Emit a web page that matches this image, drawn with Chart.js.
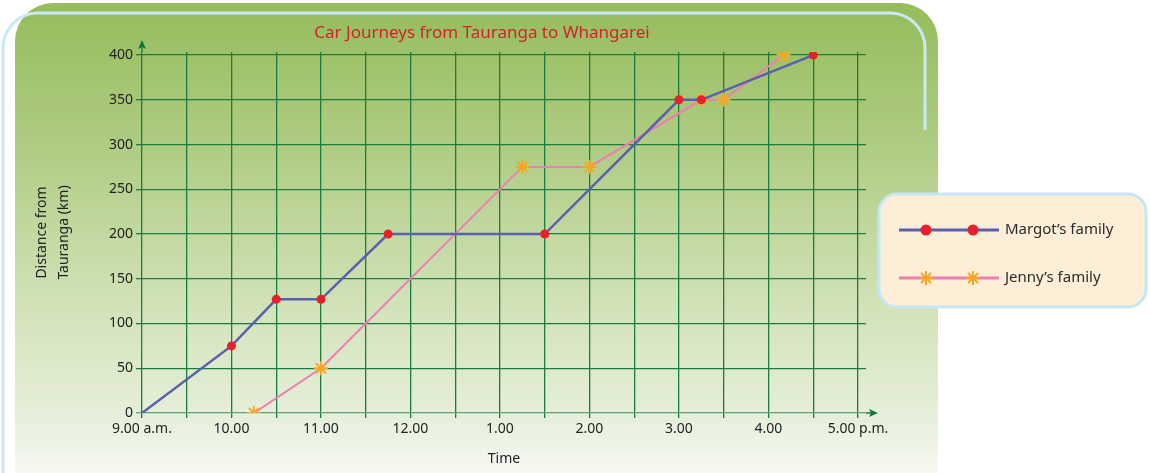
<!DOCTYPE html>
<html>
<head>
<meta charset="utf-8">
<script src="https://cdn.jsdelivr.net/npm/chart.js@4.4.1/dist/chart.umd.min.js"></script>
<style>
  html, body { margin: 0; padding: 0; background: #fff; }
</style>
</head>
<body>
<canvas id="journeyChart" width="1150" height="473"></canvas>
<script>
// hour values on a 24h clock, labels only on whole hours
const timeLabels = ['9.00 a.m.', '10.00', '11.00', '12.00', '1.00', '2.00', '3.00', '4.00', '5.00 p.m.'];
const distanceTicks = [0, 50, 100, 150, 200, 250, 300, 350, 400];

const margotTimes = [9, 10, 10.5, 11, 11.75, 13.5, 15, 15.25, 16.5];
const margotKm = [0, 75, 127, 127, 200, 200, 350, 350, 400];

const jennyTimes = [10.25, 11, 13.25, 14, 15.25, 15.5, 16.17];
const jennyKm = [0, 50, 275, 275, 350, 350, 400];

const FONT = '"Noto Sans", "Open Sans", sans-serif';
const GRID = '#1e7b3f';

function roundRect(ctx, x, y, w, h, r) {
  ctx.beginPath();
  ctx.moveTo(x + r, y);
  ctx.lineTo(x + w - r, y);
  ctx.arcTo(x + w, y, x + w, y + r, r);
  ctx.lineTo(x + w, y + h - r);
  ctx.arcTo(x + w, y + h, x + w - r, y + h, r);
  ctx.lineTo(x + r, y + h);
  ctx.arcTo(x, y + h, x, y + h - r, r);
  ctx.lineTo(x, y + r);
  ctx.arcTo(x, y, x + r, y, r);
  ctx.closePath();
}

// green panel with the pale blue frame behind the chart
const panelPlugin = {
  id: 'panel',
  beforeDraw(chart) {
    const ctx = chart.ctx;
    ctx.save();
    ctx.fillStyle = '#fff';
    ctx.fillRect(0, 0, chart.width, chart.height);

    const grad = ctx.createLinearGradient(0, 3, 0, 473);
    grad.addColorStop(0, '#96bc5b');
    grad.addColorStop(0.3, '#aecc82');
    grad.addColorStop(0.65, '#d2e3b9');
    grad.addColorStop(0.88, '#e6efdb');
    grad.addColorStop(1, '#f7f9f2');
    roundRect(ctx, 15, 3, 923, 500, 38);
    ctx.fillStyle = grad;
    ctx.fill();

    ctx.beginPath();
    ctx.moveTo(925, 130);
    ctx.lineTo(925, 48);
    ctx.arcTo(925, 13, 890, 13, 35);
    ctx.lineTo(38, 13);
    ctx.arcTo(3, 13, 3, 48, 35);
    ctx.lineTo(3, 480);
    ctx.strokeStyle = '#cbe8f7';
    ctx.lineWidth = 3;
    ctx.stroke();
    ctx.restore();
  },
  afterDraw(chart) {
    const ctx = chart.ctx;
    const xs = chart.scales.x;
    const ys = chart.scales.y;
    const x0 = xs.getPixelForValue(9);
    const y0 = ys.getPixelForValue(0);
    const top = chart.chartArea.top;
    const right = chart.chartArea.right;
    ctx.save();

    // axis arrows
    ctx.strokeStyle = GRID;
    ctx.fillStyle = '#16763a';
    ctx.lineWidth = 1.5;
    ctx.beginPath();
    ctx.moveTo(x0, top);
    ctx.lineTo(x0, top - 6);
    ctx.moveTo(right, y0);
    ctx.lineTo(right + 5, y0);
    ctx.stroke();
    ctx.beginPath();
    ctx.moveTo(x0, top - 12);
    ctx.lineTo(x0 - 4, top - 3);
    ctx.lineTo(x0, top - 5);
    ctx.lineTo(x0 + 4, top - 3);
    ctx.closePath();
    ctx.fill();
    ctx.beginPath();
    ctx.moveTo(right + 12, y0);
    ctx.lineTo(right + 3, y0 - 4);
    ctx.lineTo(right + 5, y0);
    ctx.lineTo(right + 3, y0 + 4);
    ctx.closePath();
    ctx.fill();

    // title
    ctx.fillStyle = '#d1232b';
    ctx.font = '17px ' + FONT;
    ctx.textAlign = 'center';
    ctx.textBaseline = 'middle';
    ctx.fillText('Car Journeys from Tauranga to Whangarei', 482, 33);

    // legend box
    roundRect(ctx, 879, 194, 267, 113, 18);
    ctx.fillStyle = '#fdeed8';
    ctx.fill();
    ctx.strokeStyle = '#c6e6f6';
    ctx.lineWidth = 3;
    ctx.stroke();

    const rows = [
      { ds: chart.data.datasets[0], y: 230, r: 5.5 },
      { ds: chart.data.datasets[1], y: 278, r: 7 }
    ];
    rows.forEach(function(row) {
      const ds = row.ds;
      ctx.strokeStyle = ds.borderColor;
      ctx.lineWidth = 3;
      ctx.beginPath();
      ctx.moveTo(899, row.y);
      ctx.lineTo(999, row.y);
      ctx.stroke();
      [926, 973].forEach(function(mx) {
        ctx.fillStyle = ds.pointBackgroundColor;
        ctx.strokeStyle = ds.pointBorderColor;
        ctx.lineWidth = ds.pointBorderWidth;
        Chart.helpers.drawPoint(ctx, {
          pointStyle: ds.pointStyle,
          radius: row.r,
          borderWidth: ds.pointBorderWidth
        }, mx, row.y);
      });
      ctx.fillStyle = '#2b2b2b';
      ctx.font = '15px ' + FONT;
      ctx.textAlign = 'left';
      ctx.textBaseline = 'middle';
      ctx.fillText(ds.label, 1005, row.y);
    });
    ctx.restore();
  }
};

const ctx = document.getElementById('journeyChart');

new Chart(ctx, {
  type: 'line',
  data: {
    datasets: [
      {
        label: 'Margot\u2019s family',
        data: margotTimes.map((t, i) => ({ x: t, y: margotKm[i] })),
        borderColor: '#5a5fae',
        borderWidth: 2.5,
        pointStyle: 'circle',
        // no marker at the start of the trip
        pointRadius: c => (c.dataIndex === 0 ? 0 : 4.5),
        pointBackgroundColor: '#e8202a',
        pointBorderColor: '#e8202a',
        pointBorderWidth: 0,
        tension: 0
      },
      {
        label: 'Jenny\u2019s family',
        data: jennyTimes.map((t, i) => ({ x: t, y: jennyKm[i] })),
        borderColor: '#f07cb2',
        borderWidth: 2,
        pointStyle: 'star',
        pointRadius: 7,
        pointBackgroundColor: '#f7a823',
        pointBorderColor: '#f7a823',
        pointBorderWidth: 2,
        tension: 0
      }
    ]
  },
  options: {
    responsive: false,
    animation: false,
    layout: { padding: { top: 52, right: 284, bottom: 0, left: 0 } },
    plugins: {
      legend: { display: false },
      tooltip: { enabled: false }
    },
    scales: {
      x: {
        type: 'linear',
        min: 9,
        max: 17.09,
        afterBuildTicks: function(scale) {
          const ticks = [];
          for (let h = 9; h <= 17; h += 0.5) ticks.push({ value: h });
          scale.ticks = ticks;
        },
        afterFit: function(scale) { scale.height = 60; },
        border: { display: false },
        grid: { color: GRID, lineWidth: 1.3, tickLength: 5 },
        ticks: {
          autoSkip: false,
          maxRotation: 0,
          padding: 3,
          color: '#222',
          font: { family: FONT, size: 14 },
          callback: function(value) {
            return Number.isInteger(value) ? timeLabels[value - 9] : '';
          }
        },
        title: {
          display: true,
          text: 'Time',
          color: '#222',
          font: { family: FONT, size: 14 },
          padding: { top: 0, bottom: 6 }
        }
      },
      y: {
        min: 0,
        max: 403.4,
        afterBuildTicks: function(scale) {
          scale.ticks = distanceTicks.map(v => ({ value: v }));
        },
        afterFit: function(scale) { scale.width = 142; },
        border: { display: false },
        grid: {
          color: c => (c.tick && c.tick.value === 0 ? '#5fa574' : GRID),
          lineWidth: 1.3,
          tickLength: 6
        },
        ticks: {
          padding: 3,
          color: '#222',
          font: { family: FONT, size: 14 }
        },
        title: {
          display: true,
          text: ['Distance from', 'Tauranga (km)'],
          color: '#222',
          font: { family: FONT, size: 14, lineHeight: 1.57 },
          padding: { top: 31, bottom: 0 }
        }
      }
    }
  },
  plugins: [panelPlugin]
});
</script>
</body>
</html>
